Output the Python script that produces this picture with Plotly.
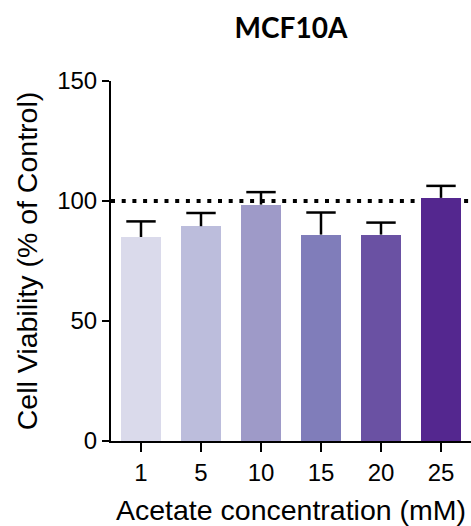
import plotly.graph_objects as go

# Acetate concentrations (mM) and MCF10A viability, % of control
concentrations = ["1", "5", "10", "15", "20", "25"]
viability = [85, 89.5, 98.5, 86, 86, 101.3]
viability_err = [6.5, 5.5, 5.2, 9.2, 5.0, 5.0]
bar_colors = ["#DADAEB", "#BCBDDC", "#9E9AC8", "#807DBA", "#6A51A3", "#54278F"]

y_ticks = [0, 50, 100, 150]
control_level = 100

err_tops = [v + e for v, e in zip(viability, viability_err)]

fig = go.Figure()
fig.add_trace(go.Bar(
    x=concentrations,
    y=viability,
    marker=dict(color=bar_colors, line=dict(width=0)),
    width=0.667,
    showlegend=False,
    hoverinfo="skip",
))

# upper-only error bars: stem from bar top to the cap, cap drawn as a marker
fig.add_trace(go.Scatter(
    x=concentrations,
    y=err_tops,
    mode="markers",
    marker=dict(symbol="line-ew", size=21, color="black",
                line=dict(color="black", width=2.5)),
    error_y=dict(
        type="data",
        symmetric=False,
        array=[0] * len(viability_err),
        arrayminus=viability_err,
        color="black",
        thickness=2.5,
        width=0,
    ),
    showlegend=False,
))

# dotted reference line at the control level, drawn beneath the bars
fig.add_shape(
    type="line", xref="paper", yref="y",
    x0=0, x1=1, y0=control_level, y1=control_level,
    line=dict(color="black", width=4, dash="4px,6.7px"),
    layer="below",
)

tick_font = dict(family="Liberation Sans", size=24, color="black")
title_font = dict(family="Liberation Sans", size=28.5, color="black")

fig.update_layout(
    width=471, height=526,
    margin=dict(l=111, r=0, t=81, b=85),
    paper_bgcolor="white", plot_bgcolor="white",
    bargap=0,
    title=dict(
        text="<b>MCF10A</b>",
        x=291 / 471, xanchor="center",
        y=1 - 28 / 526, yanchor="middle",
        font=dict(family="Lato", size=28, color="black"),
    ),
    xaxis=dict(
        type="category",
        range=[-0.5, 5.5],
        automargin=False,
        showline=True, linecolor="black", linewidth=2,
        ticks="outside", ticklen=9, tickwidth=2, tickcolor="black",
        tickfont=tick_font,
        showgrid=False, zeroline=False,
        title=dict(text="Acetate concentration (mM)", font=title_font, standoff=16),
    ),
    yaxis=dict(
        range=[0, 150],
        tickvals=y_ticks,
        automargin=False,
        showline=True, linecolor="black", linewidth=2,
        ticks="outside", ticklen=7, tickwidth=2, tickcolor="black",
        tickfont=tick_font,
        showgrid=False, zeroline=False,
        title=dict(text="Cell Viability (% of Control)", font=title_font, standoff=11),
    ),
)

fig.write_html("out.html")
